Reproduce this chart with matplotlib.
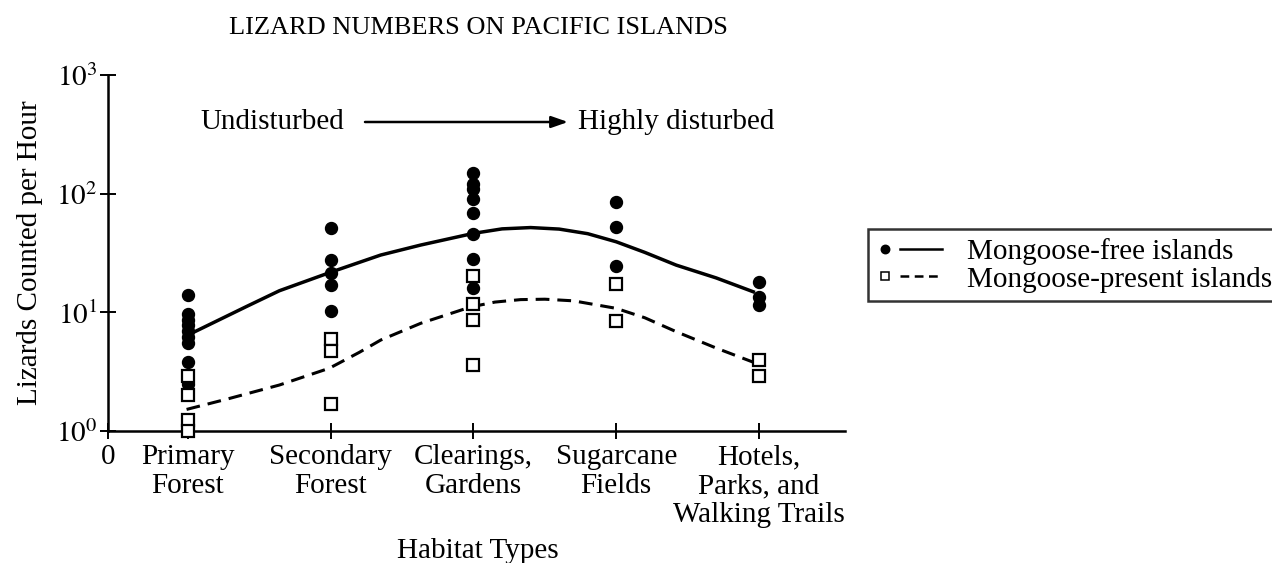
import numpy as np
import matplotlib
matplotlib.use("Agg")
import matplotlib.pyplot as plt
from matplotlib.lines import Line2D
from matplotlib.legend_handler import HandlerBase

plt.rcParams["font.family"] = ["Liberation Serif", "DejaVu Serif"]
plt.rcParams["mathtext.fontset"] = "stix"

# ---- data ------------------------------------------------------------------
categories = ["Primary\nForest", "Secondary\nForest", "Clearings,\nGardens",
              "Sugarcane\nFields", "Hotels,\nParks, and\nWalking Trails"]

# individual counts (lizards per hour) per habitat, mongoose-free islands
free_counts = [
    [14.0, 9.7, 8.7, 7.8, 7.0, 6.2, 5.5, 3.8, 2.5],
    [51.6, 27.6, 21.6, 17.0, 10.3],
    [150, 120, 109, 89.5, 68.2, 45.4, 28.1, 16.1],
    [84.5, 52.6, 24.5],
    [18.1, 13.5, 11.5],
]
# mongoose-present islands
present_counts = [
    [2.9, 2.0, 1.24, 1.0],
    [5.96, 4.75, 1.69],
    [20.2, 11.7, 8.7, 3.6],
    [17.3, 8.45],
    [3.96, 2.92],
]

# fitted trend curves (habitat position, count)
free_curve_x = [1.0, 1.41, 1.64, 2.01, 2.35, 2.63, 3.0, 3.2, 3.4, 3.6,
                3.8, 4.0, 4.2, 4.42, 4.7, 4.96]
free_curve_y = [6.44, 11.2, 15.2, 22.0, 30.4, 36.9, 46.3, 50.5, 51.8, 50.3,
                46.0, 39.3, 32.0, 25.0, 19.5, 14.9]
present_curve_x = [0.99, 1.29, 1.64, 1.99, 2.2, 2.35, 2.63, 2.98, 3.15, 3.33,
                   3.5, 3.7, 4.0, 4.2, 4.42, 4.7, 4.98]
present_curve_y = [1.52, 1.88, 2.44, 3.38, 4.6, 5.84, 8.08, 11.1, 12.2, 12.8,
                   12.9, 12.5, 10.8, 9.0, 6.87, 5.0, 3.72]

FS = 21


class DotThenLine(HandlerBase):
    """Legend key: small marker, then a short line segment."""

    def create_artists(self, legend, orig_handle, xdescent, ydescent,
                       width, height, fontsize, trans):
        y = height / 2 - ydescent
        x0 = -xdescent
        dot = Line2D([x0 + 0.12 * width], [y], ls="none",
                     marker=orig_handle.get_marker(), ms=6,
                     mfc=orig_handle.get_markerfacecolor(), mec="black",
                     mew=1.1, transform=trans)
        seg = Line2D([x0 + 0.35 * width, x0 + width], [y, y], color="black",
                     lw=1.8, ls=orig_handle.get_linestyle(), transform=trans)
        if orig_handle.get_linestyle() == "--":
            seg.set_dashes((3.5, 2.2))
        return [dot, seg]


fig = plt.figure(figsize=(12.72, 5.63), dpi=100)
ax = fig.add_axes([108 / 1272, 1 - 431 / 563, (845 - 108) / 1272, (431 - 75) / 563])

positions = np.arange(1, len(categories) + 1)

for pos, vals in zip(positions, free_counts):
    ax.plot([pos] * len(vals), vals, ls="none", marker="o", ms=8.6,
            mfc="black", mec="black", clip_on=False, zorder=4)
for pos, vals in zip(positions, present_counts):
    ax.plot([pos] * len(vals), vals, ls="none", marker="s", ms=8.4,
            mfc="white", mec="black", mew=1.6, clip_on=False, zorder=5)

ax.plot(free_curve_x, free_curve_y, color="black", lw=2.5, zorder=3)
ax.plot(present_curve_x, present_curve_y, color="black", lw=2.2,
        ls=(0, (4.5, 2.6)), zorder=3)

ax.set_yscale("log")
ax.set_ylim(1, 1000)
x_left = 1 - 80 / 142.75
ax.set_xlim(x_left, 1 + (845 - 188) / 142.75)

ax.set_yticks([1, 10, 100, 1000])
ax.set_yticklabels([r"$10^0$", r"$10^1$", r"$10^2$", r"$10^3$"])
ax.yaxis.set_minor_locator(matplotlib.ticker.NullLocator())
ax.set_xticks([x_left] + list(positions))
ax.set_xticklabels(["0"] + categories, linespacing=1.15)

for s in ("top", "right"):
    ax.spines[s].set_visible(False)
for s in ("left", "bottom"):
    ax.spines[s].set_linewidth(1.8)
ax.tick_params(axis="both", which="major", direction="inout", length=11,
               width=1.4, labelsize=FS, colors="black")
ax.tick_params(axis="y", pad=2)
ax.tick_params(axis="x", pad=4)

ax.set_ylabel("Lizards Counted per Hour", fontsize=FS)
ax.yaxis.set_label_coords(-0.088, 0.5)
ax.set_xlabel("Habitat Types", fontsize=FS)
ax.xaxis.set_label_coords(0.502, -0.3)

fig.text(478 / 1272, 1 - 28 / 563, "LIZARD NUMBERS ON PACIFIC ISLANDS",
         ha="center", va="center", fontsize=19)

# disturbance gradient arrow
y_arr = (431 - 122) / 356
ax.text((200 - 108) / 737, y_arr, "Undisturbed", transform=ax.transAxes,
        ha="left", va="center", fontsize=FS)
ax.text((578 - 108) / 737, y_arr, "Highly disturbed", transform=ax.transAxes,
        ha="left", va="center", fontsize=FS)
ax.annotate("", xy=((568 - 108) / 737, y_arr), xytext=((365 - 108) / 737, y_arr),
            xycoords="axes fraction", textcoords="axes fraction",
            arrowprops=dict(arrowstyle="-|>,head_length=1.0,head_width=0.35",
                            color="black", lw=1.8, shrinkA=0, shrinkB=0))

h_free = Line2D([], [], marker="o", mfc="black", ls="-")
h_present = Line2D([], [], marker="s", mfc="white", ls="--")
leg = fig.legend([h_free, h_present],
                 ["Mongoose-free islands", "Mongoose-present islands"],
                 handler_map={Line2D: DotThenLine()},
                 loc="upper left", bbox_to_anchor=(868 / 1272, 1 - 229 / 563),
                 fontsize=FS, frameon=True, fancybox=False, handlelength=2.24,
                 handletextpad=0.85, borderpad=0.3, labelspacing=0.05,
                 borderaxespad=0)
leg.get_frame().set_edgecolor("black")
leg.get_frame().set_linewidth(1.8)

fig.savefig("out.png", dpi=100)
